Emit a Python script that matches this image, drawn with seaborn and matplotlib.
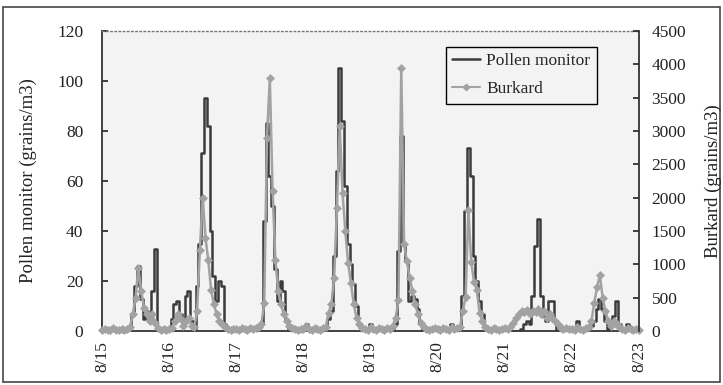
import numpy as np
import pandas as pd
import matplotlib
matplotlib.use("Agg")
import matplotlib.pyplot as plt
import seaborn as sns
from matplotlib.lines import Line2D
from matplotlib.patches import Rectangle

# ---- data (hourly, 8/15 00:00 -> 8/23 00:00) ----
dates = ["8/15", "8/16", "8/17", "8/18", "8/19", "8/20", "8/21", "8/22", "8/23"]

pm_0815 = [0, 0, 0, 0, 0, 0, 0, 0, 0, 0, 1, 7, 18, 26, 13, 5, 8, 4, 16, 33, 0, 0, 0, 0]
pm_0816 = [0, 5, 11, 12, 7, 2, 14, 16, 4, 1, 18, 35, 71, 93, 82, 40, 22, 12, 20, 18, 3, 0, 0, 1]
pm_0817 = [0, 0, 0, 0, 0, 0, 0, 0, 1, 3, 44, 83, 62, 50, 25, 12, 20, 16, 4, 1, 0, 0, 0, 0]
pm_0818 = [0, 3, 0, 0, 0, 0, 0, 0, 2, 5, 8, 30, 64, 105, 84, 58, 35, 27, 19, 10, 3, 0, 0, 0]
pm_0819 = [3, 0, 0, 0, 0, 0, 0, 0, 1, 3, 32, 78, 35, 28, 12, 14, 13, 9, 3, 0, 0, 0, 0, 0]
pm_0820 = [0, 0, 0, 0, 0, 3, 0, 0, 0, 14, 48, 73, 62, 30, 20, 12, 7, 2, 0, 0, 0, 0, 0, 0]
pm_0821 = [0, 0, 0, 0, 0, 0, 1, 3, 4, 3, 14, 34, 45, 14, 6, 4, 12, 12, 4, 0, 0, 0, 0, 0]
pm_0822 = [0, 0, 4, 0, 0, 0, 0, 2, 4, 9, 13, 9, 4, 1, 3, 6, 12, 3, 0, 0, 3, 0, 0, 0]
pm_0823 = [0]

bk_0815 = [20, 30, 10, 20, 40, 20, 10, 30, 20, 30, 60, 250, 500, 950, 600, 350, 250, 150, 250, 120, 40, 20, 30, 20]
bk_0816 = [30, 40, 150, 250, 200, 80, 150, 200, 80, 60, 300, 1220, 2000, 1400, 1060, 620, 400, 250, 150, 100, 60, 30, 20, 30]
bk_0817 = [30, 20, 40, 30, 20, 50, 30, 40, 60, 100, 420, 2900, 3800, 2100, 1060, 600, 400, 250, 150, 80, 40, 30, 20, 30]
bk_0818 = [30, 80, 30, 20, 40, 30, 20, 40, 60, 270, 400, 800, 1850, 3070, 2070, 1500, 1020, 720, 400, 200, 100, 50, 30, 20]
bk_0819 = [60, 30, 20, 40, 30, 20, 40, 30, 80, 200, 460, 3950, 1300, 1050, 800, 600, 400, 250, 120, 60, 30, 20, 30, 40]
bk_0820 = [30, 20, 40, 30, 20, 60, 30, 40, 60, 300, 510, 1820, 1040, 740, 615, 270, 150, 60, 30, 20, 40, 30, 20, 30]
bk_0821 = [40, 30, 60, 120, 200, 250, 300, 280, 320, 250, 300, 280, 330, 250, 300, 200, 250, 200, 150, 100, 50, 30, 40, 30]
bk_0822 = [30, 20, 60, 30, 20, 40, 60, 150, 420, 660, 840, 500, 300, 150, 80, 150, 100, 60, 30, 20, 40, 30, 20, 30]
bk_0823 = [20]

left_ticks = [0, 20, 40, 60, 80, 100, 120]
right_ticks = [0, 500, 1000, 1500, 2000, 2500, 3000, 3500, 4000, 4500]

pollen_monitor = (pm_0815 + pm_0816 + pm_0817 + pm_0818 + pm_0819
                  + pm_0820 + pm_0821 + pm_0822 + pm_0823)
burkard = (bk_0815 + bk_0816 + bk_0817 + bk_0818 + bk_0819
           + bk_0820 + bk_0821 + bk_0822 + bk_0823)

# ---- style ----
sns.set_style("ticks")
plt.rcParams["font.family"] = ["Liberation Serif", "DejaVu Serif"]

DARK = "#3b3b3b"
GRAY = "#a2a2a2"
BG = "#f3f3f3"

hours = np.arange(len(pollen_monitor))
df = pd.DataFrame({"day": hours / 24.0, "pollen": pollen_monitor, "burkard": burkard})

W, H = 723, 385
fig = plt.figure(figsize=(W / 100, H / 100), dpi=100)
fig.patch.set_facecolor("white")
ax1 = fig.add_axes([102 / W, (H - 331) / H, 537 / W, 300 / H])
ax1.set_facecolor(BG)
ax2 = ax1.twinx()

sns.lineplot(data=df, x="day", y="pollen", ax=ax1, color=DARK, linewidth=1.8,
             drawstyle="steps-mid", estimator=None, legend=False)
sns.lineplot(data=df, x="day", y="burkard", ax=ax2, color=GRAY, linewidth=1.8,
             marker="D", markersize=3.8, markeredgecolor=GRAY, markeredgewidth=0.5,
             estimator=None, legend=False, clip_on=False)

ax1.set_xlim(0, 8)
ax1.set_ylim(0, 120)
ax2.set_ylim(0, 4500)

ax1.set_xticks(range(len(dates)))
ax1.set_xticklabels(dates, rotation=90)
ax1.set_yticks(left_ticks)
ax2.set_yticks(right_ticks)
ax1.set_xlabel("")
ax1.set_ylabel("")
ax2.set_ylabel("")

ax1.tick_params(axis="x", length=0, pad=7, labelsize=12.5, colors="#222222")
ax1.tick_params(axis="y", direction="in", length=4.5, width=1.2, pad=13.5,
                labelsize=12.5, colors="#222222")
ax2.tick_params(axis="y", direction="in", length=4.5, width=1.2, pad=9,
                labelsize=12.5, colors="#222222")

for s in ["left", "bottom"]:
    ax1.spines[s].set_color("#333333")
    ax1.spines[s].set_linewidth(1.3)
ax1.spines["right"].set_visible(False)
ax1.spines["top"].set_linestyle((0, (1, 2)))
ax1.spines["top"].set_color("#777777")
ax1.spines["top"].set_linewidth(1.0)
for s in ["left", "bottom", "top"]:
    ax2.spines[s].set_visible(False)
ax2.spines["right"].set_color("#333333")
ax2.spines["right"].set_linewidth(1.3)

handles = [Line2D([], [], color=DARK, linewidth=1.8),
           Line2D([], [], color=GRAY, linewidth=1.5, marker="D", markersize=3.2)]
leg = ax2.legend(handles, ["Pollen monitor", "Burkard"], loc="upper left",
                 bbox_to_anchor=(0.64, 0.947), frameon=True, fancybox=False,
                 edgecolor="black", facecolor=BG, framealpha=1, fontsize=12.5,
                 handlelength=1.6, handletextpad=0.4, labelspacing=0.7,
                 borderpad=0.35, borderaxespad=0)
leg.get_frame().set_linewidth(1.0)

fig.text(28 / W, 1 - 181 / H, "Pollen monitor (grains/m3)", rotation=90,
         ha="center", va="center", fontsize=13.5, color="#222222")
fig.text(713 / W, 1 - 181 / H, "Burkard (grains/m3)", rotation=90,
         ha="center", va="center", fontsize=13.5, color="#222222")

fig.add_artist(Rectangle((3 / W, 3 / H), 717 / W, 375 / H, transform=fig.transFigure,
                         fill=False, edgecolor="#444444", linewidth=1.2))

fig.savefig("out.png", dpi=100)
